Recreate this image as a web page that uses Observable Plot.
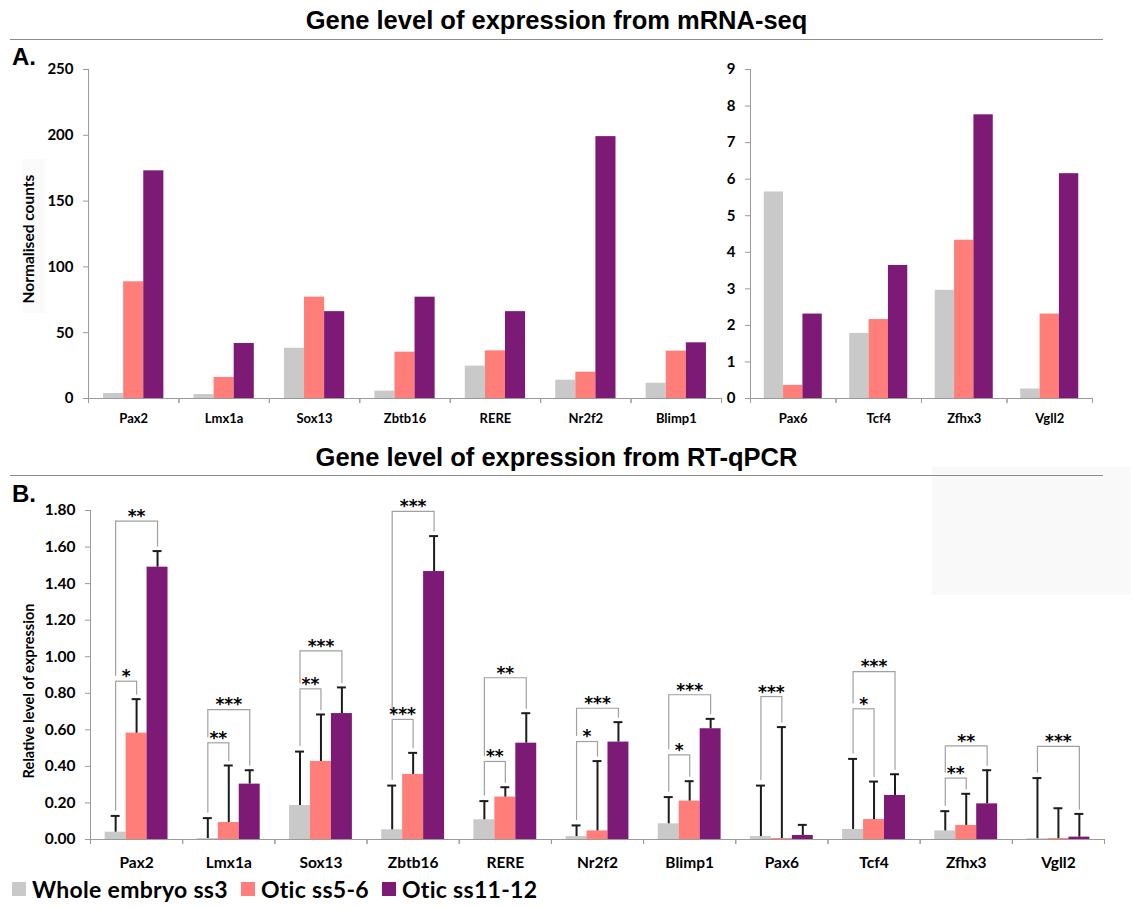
<!DOCTYPE html>
<html>
<head>
<meta charset="utf-8">
<script src="https://cdn.jsdelivr.net/npm/d3@7"></script>
<script src="https://cdn.jsdelivr.net/npm/@observablehq/plot@0.6"></script>
<style>
  html, body { margin: 0; padding: 0; background: #fff; }
  #root { position: relative; width: 1133px; height: 908px; overflow: hidden; background: #fff; font-family: Lato, sans-serif; }
  .abs { position: absolute; }
  .title { left: 0; width: 1113px; text-align: center; font: bold 25.5px/25.5px "Liberation Sans", Arial, sans-serif; color: #000; white-space: nowrap; }
  .hr { left: 10px; width: 1093px; height: 0; border-top: 1px solid #8c8c8c; }
  .panel { font: bold 24px/24px "Liberation Sans", Arial, sans-serif; color: #000; }
  .ylab { font-family: Lato, sans-serif; font-weight: bold; color: #000; white-space: nowrap; transform: translate(-50%, -50%) rotate(-90deg); }
  .legend { left: 12px; top: 877px; display: flex; align-items: center; font: bold 23px/24px Lato, sans-serif; letter-spacing: 0.3px; color: #000; white-space: nowrap; }
  .legend .sw { display: inline-block; width: 14px; height: 14px; margin-right: 6px; }
  .legend .item { display: flex; align-items: center; margin-right: 13px; }
  svg text { fill: #000; }
  .chartA [aria-label^="fx-axis"] text { font-size: 13px; }
</style>
</head>
<body>
<div id="root">
  <div class="abs" style="left:932px;top:467px;width:199px;height:128px;background:#f9f9f9;"></div>
  <div class="abs" style="left:22px;top:159px;width:23px;height:154px;background:#fbfbfb;"></div>

  <div class="abs title" style="top:8px;">Gene level of expression from mRNA-seq</div>
  <div class="abs hr" style="top:39px;"></div>
  <div class="abs panel" style="left:12px;top:45px;">A.</div>
  <div class="abs ylab" style="left:28px;top:239px;font-size:15.5px;line-height:15px;">Normalised counts</div>
  <div id="a1" class="abs chartA" style="left:0;top:50px;"></div>
  <div id="a2" class="abs chartA" style="left:700px;top:50px;"></div>

  <div class="abs title" style="top:445px;">Gene level of expression from RT-qPCR</div>
  <div class="abs hr" style="top:475px;"></div>
  <div class="abs panel" style="left:12px;top:482px;">B.</div>
  <div class="abs ylab" style="left:28px;top:691px;font-size:14.5px;line-height:15px;">Relative level of expression</div>
  <div id="b" class="abs chartB" style="left:0;top:490px;"></div>

  <div id="legend" class="abs legend"></div>
</div>
<script>
// ---------- data ----------
const series = ["Whole embryo ss3", "Otic ss5-6", "Otic ss11-12"];
const seriesColors = ["#c9c9c9", "#ff7e7a", "#7c1a76"];

// Panel A (mRNA-seq normalised counts), left axis
const genesA1 = ["Pax2", "Lmx1a", "Sox13", "Zbtb16", "RERE", "Nr2f2", "Blimp1"];
const countsA1Whole    = [3.8, 3.0, 38.2, 5.6, 24.6, 13.9, 11.6];
const countsA1Otic56   = [88.7, 16.0, 77.0, 35.2, 36.2, 20.0, 36.0];
const countsA1Otic1112 = [173.0, 41.8, 66.0, 77.0, 66.0, 199.0, 42.3];
const ticksA1 = [0, 50, 100, 150, 200, 250];

// Panel A, right axis
const genesA2 = ["Pax6", "Tcf4", "Zfhx3", "Vgll2"];
const countsA2Whole    = [5.65, 1.78, 2.96, 0.26];
const countsA2Otic56   = [0.36, 2.16, 4.33, 2.31];
const countsA2Otic1112 = [2.31, 3.64, 7.76, 6.15];
const ticksA2 = [0, 1, 2, 3, 4, 5, 6, 7, 8, 9];

// Panel B (RT-qPCR relative expression) with upper error
const genesB = ["Pax2", "Lmx1a", "Sox13", "Zbtb16", "RERE", "Nr2f2", "Blimp1", "Pax6", "Tcf4", "Zfhx3", "Vgll2"];
const qpcrWhole       = [0.040, 0.005, 0.186, 0.053, 0.108, 0.016, 0.086, 0.016, 0.055, 0.047, 0.004];
const qpcrWholeErr    = [0.089, 0.112, 0.295, 0.242, 0.102, 0.061, 0.146, 0.279, 0.386, 0.108, 0.332];
const qpcrOtic56      = [0.582, 0.093, 0.427, 0.356, 0.232, 0.047, 0.210, 0.005, 0.109, 0.077, 0.005];
const qpcrOtic56Err   = [0.186, 0.312, 0.257, 0.118, 0.054, 0.382, 0.109, 0.610, 0.208, 0.173, 0.166];
const qpcrOtic1112    = [1.490, 0.303, 0.689, 1.466, 0.527, 0.533, 0.606, 0.022, 0.241, 0.195, 0.013];
const qpcrOtic1112Err = [0.088, 0.076, 0.143, 0.194, 0.164, 0.109, 0.054, 0.058, 0.116, 0.184, 0.127];
const ticksB = [0, 0.2, 0.4, 0.6, 0.8, 1.0, 1.2, 1.4, 1.6, 1.8];

// significance brackets (series index from -> to, bracket level, label)
const sigGene  = ["Pax2", "Pax2", "Lmx1a", "Lmx1a", "Sox13", "Sox13", "Zbtb16", "Zbtb16", "RERE", "RERE", "Nr2f2", "Nr2f2", "Blimp1", "Blimp1", "Pax6", "Tcf4", "Tcf4", "Zfhx3", "Zfhx3", "Vgll2"];
const sigFrom  = [0, 0, 0, 0, 0, 0, 0, 0, 0, 0, 0, 0, 0, 0, 0, 0, 0, 0, 0, 0];
const sigTo    = [1, 2, 1, 2, 1, 2, 1, 2, 1, 2, 1, 2, 1, 2, 1, 1, 2, 1, 2, 2];
const sigLevel = [0.866, 1.742, 0.529, 0.711, 0.824, 1.032, 0.657, 1.795, 0.427, 0.885, 0.536, 0.718, 0.463, 0.792, 0.782, 0.715, 0.919, 0.336, 0.512, 0.509];
const sigLabel = ["*", "**", "**", "***", "**", "***", "***", "***", "**", "**", "*", "***", "*", "***", "***", "*", "***", "**", "**", "***"];

// ---------- build tables ----------
function buildRows(genes, vals, errs) {
  const rows = [];
  genes.forEach((g, i) => series.forEach((s, j) => {
    rows.push({gene: g, series: s, value: vals[j][i], hi: errs ? vals[j][i] + errs[j][i] : null});
  }));
  return rows;
}
const rowsA1 = buildRows(genesA1, [countsA1Whole, countsA1Otic56, countsA1Otic1112]);
const rowsA2 = buildRows(genesA2, [countsA2Whole, countsA2Otic56, countsA2Otic1112]);
const rowsB = buildRows(genesB, [qpcrWhole, qpcrOtic56, qpcrOtic1112], [qpcrWholeErr, qpcrOtic56Err, qpcrOtic1112Err]);

const hiOf = (g, s) => rowsB.find(r => r.gene === g && r.series === s).hi;
const brackets = sigGene.map((g, i) => ({gene: g, from: series[sigFrom[i]], to: series[sigTo[i]], span: sigTo[i] - sigFrom[i], level: sigLevel[i], label: sigLabel[i]}));
brackets.forEach(b => {
  const inner = brackets.find(o => o !== b && o.gene === b.gene && o.from === b.from && o.level < b.level);
  b.fromLo = inner ? inner.level : hiOf(b.gene, b.from);
  b.toLo = hiOf(b.gene, b.to);
});

const axisGrey = "#9a9a9a";

function chart({genes, rows, yDomain, yTicks, tickFormat, width, height, mL, mR, mT, mB, pad, fontSize, xPad, errors, sig}) {
  const fw = (width - mL - mR) / genes.length;
  const step = fw / (3 + 2 * pad);
  const marks = [
    Plot.barY(rows, {fx: "gene", x: "series", y: "value", fill: "series"}),
    Plot.ruleY([0], {stroke: axisGrey}),
    Plot.ruleX([series[1]], {x: d => d, y1: 0, y2: 0, insetBottom: -5, dx: -fw / 2, stroke: axisGrey}),
    Plot.ruleX([series[1]], {x: d => d, y1: 0, y2: 0, insetBottom: -5, dx: fw / 2, stroke: axisGrey})
  ];
  if (errors) {
    marks.push(
      Plot.ruleX(rows, {fx: "gene", x: "series", y1: "value", y2: "hi", stroke: "#1c1c1c", strokeWidth: 2}),
      Plot.tickY(rows, {fx: "gene", x: "series", y: "hi", stroke: "#1c1c1c", strokeWidth: 2, insetLeft: 6, insetRight: 6})
    );
  }
  if (sig) {
    const bStroke = "#a0a0a0";
    const txt = {fx: "gene", y: "level", text: "label", dy: -4.5, fill: "#000", fontSize: 17, fontWeight: "bold", fontFamily: "DejaVu Sans, sans-serif"};
    marks.push(
      Plot.link(sig, {fx: "gene", x1: "from", x2: "to", y1: "level", y2: "level", stroke: bStroke, strokeWidth: 1.2}),
      Plot.ruleX(sig, {fx: "gene", x: "from", y1: "level", y2: "fromLo", insetBottom: 5, stroke: bStroke, strokeWidth: 1.2}),
      Plot.ruleX(sig, {fx: "gene", x: "to", y1: "level", y2: "toLo", insetBottom: 4, stroke: bStroke, strokeWidth: 1.2}),
      Plot.text(sig.filter(b => b.span === 1), {...txt, x: "from", dx: step / 2}),
      Plot.text(sig.filter(b => b.span === 2), {...txt, x: () => series[1]})
    );
  }
  return Plot.plot({
    width, height,
    marginLeft: mL, marginRight: mR, marginTop: mT, marginBottom: mB,
    style: {color: axisGrey, background: "transparent", fontFamily: "Lato, sans-serif", fontWeight: "bold", fontSize: fontSize + "px", overflow: "visible"},
    fx: {domain: genes, padding: 0, round: false, label: null, tickSize: 0, tickPadding: xPad, axis: "bottom"},
    x: {domain: series, paddingInner: 0, paddingOuter: pad, round: false, axis: null},
    y: {domain: yDomain, ticks: yTicks, tickFormat, tickSize: 5, tickPadding: 10, label: null, line: true},
    color: {domain: series, range: seriesColors},
    marks
  });
}

document.getElementById("a1").appendChild(chart({
  genes: genesA1, rows: rowsA1, yDomain: [0, 250], yTicks: ticksA1, tickFormat: d => String(d),
  width: 730, height: 380, mL: 88, mR: 9, mT: 19, mB: 32, pad: 0.75, fontSize: 15, xPad: 15
}));
document.getElementById("a2").appendChild(chart({
  genes: genesA2, rows: rowsA2, yDomain: [0, 9], yTicks: ticksA2, tickFormat: d => String(d),
  width: 433, height: 380, mL: 50, mR: 41, mT: 19, mB: 32, pad: 0.71, fontSize: 15, xPad: 15
}));
document.getElementById("b").appendChild(chart({
  genes: genesB, rows: rowsB, yDomain: [0, 1.8], yTicks: ticksB, tickFormat: d => d.toFixed(2),
  width: 1133, height: 380, mL: 90, mR: 29, mT: 20, mB: 31, pad: 0.7, fontSize: 15.5, xPad: 17,
  errors: true, sig: brackets
}));

// legend
const legend = document.getElementById("legend");
series.forEach((s, i) => {
  const item = document.createElement("span");
  item.className = "item";
  const sw = document.createElement("span");
  sw.className = "sw";
  sw.style.background = seriesColors[i];
  const t = document.createElement("span");
  t.textContent = s;
  item.appendChild(sw);
  item.appendChild(t);
  legend.appendChild(item);
});
</script>
</body>
</html>
